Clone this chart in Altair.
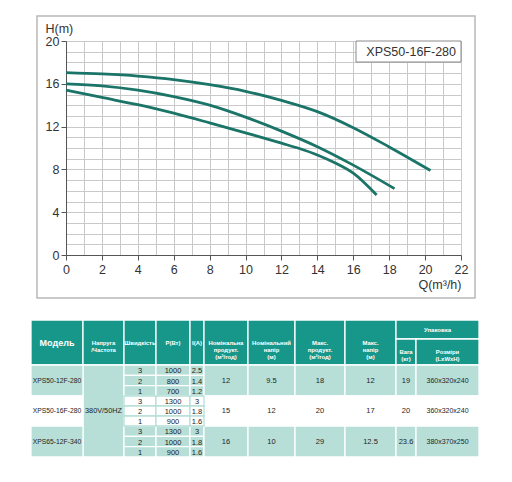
import altair as alt
import pandas as pd

FONT = "Liberation Sans"

# ---------------- curve data ----------------
curve_names = ["speed 3", "speed 2", "speed 1"]
q_speed3 = [0, 2, 4, 6, 8, 10, 12, 14, 16, 18, 20.3]
h_speed3 = [17.05, 16.92, 16.72, 16.4, 15.92, 15.3, 14.45, 13.4, 11.9, 10.1, 7.9]
q_speed2 = [0, 2, 4, 6, 8, 10, 12, 14, 16, 18.3]
h_speed2 = [16.0, 15.8, 15.4, 14.8, 14.0, 12.88, 11.58, 10.12, 8.4, 6.2]
q_speed1 = [0, 2, 4, 6, 8, 10, 12, 13, 14, 15, 16, 17.3]
h_speed1 = [15.4, 14.72, 14.05, 13.25, 12.35, 11.42, 10.45, 9.95, 9.35, 8.6, 7.65, 5.6]
chart_label = "XPS50-16F-280"
x_ticks = list(range(0, 23))
y_ticks = list(range(0, 21))

# ---------------- table data ----------------
header_labels = ["Модель", "Напруга\n/Частота", "Швидкість", "P(Вт)", "I(A)",
                 "Номінальна\nпродукт.\n(м³/год)", "Номінальний\nнапір\n(м)",
                 "Макс.\nпродукт.\n(м³/год)", "Макс.\nнапір\n(м)"]
pack_label = "Упаковка"
pack_sub_labels = ["Вага\n(кг)", "Розміри\n(LxWxH)"]
models = ["XPS50-12F-280", "XPS50-16F-280", "XPS65-12F-340"]
voltage = "380V/50HZ"
speeds = [3, 2, 1]
power = [[1000, 800, 700], [1300, 1000, 900], [1300, 1000, 900]]
current = [["2.5", "1.4", "1.2"], ["3", "1.8", "1.6"], ["3", "1.8", "1.6"]]
nom_flow = ["12", "15", "16"]
nom_head = ["9.5", "12", "10"]
max_flow = ["18", "20", "29"]
max_head = ["12", "17", "12.5"]
weight = ["19", "20", "23.6"]
dims = ["360x320x240", "360x320x240", "380x370x250"]

# ---------------- curves chart ----------------
rows = []
for name, qs, hs in zip(curve_names, [q_speed3, q_speed2, q_speed1],
                        [h_speed3, h_speed2, h_speed1]):
    for q, h in zip(qs, hs):
        rows.append({"curve": name, "Q": q, "H": h})
curves_df = pd.DataFrame(rows)

W, H = 395, 214
AX = "#555555"
GRID = "#c9c9c9"

x_axis = alt.Axis(
    values=x_ticks,
    labelExpr="datum.value % 2 === 0 ? datum.label : ''",
    labelOverlap=False, labelFlush=False,
    grid=True, gridColor=GRID, gridWidth=1,
    domainColor=AX, tickColor=AX, tickSize=5,
    tickOpacity={"condition": {"test": "datum.value % 2 === 0", "value": 1}, "value": 0},
    labelPadding=3, labelFontSize=12.5, labelColor="#333333", labelFont=FONT,
    title="Q(m³/h)", titleFont=FONT, titleFontSize=12.5, titleFontWeight="normal",
    titleColor="#333333", titleX=W, titleY=33, titleAlign="right",
    titleBaseline="alphabetic",
)
y_axis = alt.Axis(
    values=y_ticks,
    labelExpr="datum.value % 4 === 0 ? datum.label : ''",
    labelOverlap=False, labelFlush=False,
    grid=True, gridColor=GRID, gridWidth=1,
    domainColor=AX, tickColor=AX, tickSize=5,
    tickOpacity={"condition": {"test": "datum.value % 4 === 0", "value": 1}, "value": 0},
    labelPadding=2, labelFontSize=12.5, labelColor="#333333", labelFont=FONT,
    title="H(m)", titleFont=FONT, titleFontSize=12.5, titleFontWeight="normal",
    titleColor="#333333", titleAngle=0, titleX=-21, titleY=-8.5,
    titleAlign="left", titleBaseline="alphabetic",
)

one = pd.DataFrame({"k": [0]})

frame = alt.Chart(one).mark_rect(fill="transparent", stroke="#b8b8b8", strokeWidth=1.5).encode(
    x=alt.value(-29), x2=alt.value(W + 14), y=alt.value(-25), y2=alt.value(H + 43)
)

lines = alt.Chart(curves_df).mark_line(
    interpolate="monotone", color="#1b7468", strokeWidth=2.8
).encode(
    x=alt.X("Q:Q", scale=alt.Scale(domain=[0, 22], nice=False, zero=False), axis=x_axis),
    y=alt.Y("H:Q", scale=alt.Scale(domain=[0, 20], nice=False), axis=y_axis),
    detail="curve:N",
)

label_box = alt.Chart(one).mark_rect(fill="white", stroke="#8a8a8a", strokeWidth=1).encode(
    x=alt.value(290), x2=alt.value(W), y=alt.value(0), y2=alt.value(21)
)
label_text = alt.Chart(pd.DataFrame({"t": [chart_label]})).mark_text(
    font=FONT, fontSize=12.5, color="#333333", align="right", baseline="middle"
).encode(x=alt.value(W - 5), y=alt.value(10.5), text="t:N")

top = alt.layer(frame, lines, label_box, label_text).properties(
    width=W, height=H, view=alt.ViewBackground(stroke="#999999", strokeWidth=1)
)

# ---------------- table ----------------
TEAL = "#17978a"
LIGHT = "#b7dfd8"
XOFF = -35
ce = [0, 52, 93, 125, 159, 173, 217, 264, 314, 365, 385, 448]
ce = [c + XOFF for c in ce]
HB = 45          # header bottom
HS = 19          # header split (packing)
re_ = [45, 76, 106, 137]
row_fill = [LIGHT, "white", LIGHT]

rects = []
for i in range(9):
    rects.append(dict(x0=ce[i], x1=ce[i + 1], y0=0, y1=HB, fill=TEAL, stroke="white"))
rects.append(dict(x0=ce[9], x1=ce[11], y0=0, y1=HS, fill=TEAL, stroke="white"))
rects.append(dict(x0=ce[9], x1=ce[10], y0=HS, y1=HB, fill=TEAL, stroke="white"))
rects.append(dict(x0=ce[10], x1=ce[11], y0=HS, y1=HB, fill=TEAL, stroke="white"))
# merged voltage cell
rects.append(dict(x0=ce[1], x1=ce[2], y0=re_[0], y1=re_[3], fill=LIGHT, stroke="white"))
for r in range(3):
    y0, y1 = re_[r], re_[r + 1]
    for c in range(11):
        if c == 1:
            continue
        if c in (2, 3, 4):
            sub_h = (y1 - y0) / 3
            for s in range(3):
                rects.append(dict(x0=ce[c], x1=ce[c + 1], y0=y0 + s * sub_h,
                                  y1=y0 + (s + 1) * sub_h, fill=row_fill[r],
                                  stroke="white" if r != 1 else LIGHT))
        else:
            rects.append(dict(x0=ce[c], x1=ce[c + 1], y0=y0, y1=y1,
                              fill=row_fill[r], stroke="white"))
rect_df = pd.DataFrame(rects)
rect_df["order"] = (rect_df["stroke"] != "white").astype(int)
rect_df = rect_df.sort_values("order", kind="stable")

cells = alt.Chart(rect_df).mark_rect(strokeWidth=1.3).encode(
    x=alt.X("x0:Q", scale=None), x2="x1:Q",
    y=alt.Y("y0:Q", scale=None), y2="y1:Q",
    fill=alt.Fill("fill:N", scale=None),
    stroke=alt.Stroke("stroke:N", scale=None),
    order="order:Q",
)

def cx(c0, c1=None):
    c1 = c0 + 1 if c1 is None else c1
    return (ce[c0] + ce[c1]) / 2

htexts = []
for i, lab in enumerate(header_labels):
    htexts.append(dict(x=cx(i), y=HB / 2, t=lab, size=9 if i == 0 else 5.9))
htexts.append(dict(x=cx(9, 11), y=HS / 2, t=pack_label, size=6))
htexts.append(dict(x=cx(9), y=(HS + HB) / 2, t=pack_sub_labels[0], size=5.9))
htexts.append(dict(x=cx(10), y=(HS + HB) / 2, t=pack_sub_labels[1], size=5.9))
htext_df = pd.DataFrame(htexts)

header_text = alt.Chart(htext_df).mark_text(
    font=FONT, fontWeight="bold", color="white", align="center",
    baseline="middle", lineBreak="\n", lineHeight=7.2
).encode(
    x=alt.X("x:Q", scale=None), y=alt.Y("y:Q", scale=None),
    text="t:N", size=alt.Size("size:Q", scale=None),
)

btexts = []
for r in range(3):
    y0, y1 = re_[r], re_[r + 1]
    ym = (y0 + y1) / 2
    sub_h = (y1 - y0) / 3
    btexts.append(dict(x=cx(0), y=ym, t=models[r], size=6.8))
    for s in range(3):
        ys = y0 + (s + 0.5) * sub_h + 1
        btexts.append(dict(x=cx(2), y=ys, t=str(speeds[s]), size=7.5))
        btexts.append(dict(x=cx(3), y=ys, t=str(power[r][s]), size=7.5))
        btexts.append(dict(x=cx(4), y=ys, t=current[r][s], size=7.5))
    for c, vals in zip(range(5, 11), [nom_flow, nom_head, max_flow, max_head, weight, dims]):
        btexts.append(dict(x=cx(c), y=ym, t=vals[r], size=7 if c == 10 else 7.5))
btexts.append(dict(x=cx(1), y=(re_[0] + re_[3]) / 2, t=voltage, size=7.3))
btext_df = pd.DataFrame(btexts)

body_text = alt.Chart(btext_df).mark_text(
    font=FONT, color="#1e1e1e", align="center", baseline="middle"
).encode(
    x=alt.X("x:Q", scale=None), y=alt.Y("y:Q", scale=None), text="t:N",
    size=alt.Size("size:Q", scale=None),
)

table = alt.layer(cells, header_text, body_text).properties(width=W, height=137)

chart = alt.vconcat(top, table, spacing=65, bounds="flush").properties(
    padding={"left": 22, "top": 6, "right": 5, "bottom": 5},
    background="white",
).configure_view(stroke=None)

chart.save("out.html", embed_options={"renderer": "svg", "actions": False})
